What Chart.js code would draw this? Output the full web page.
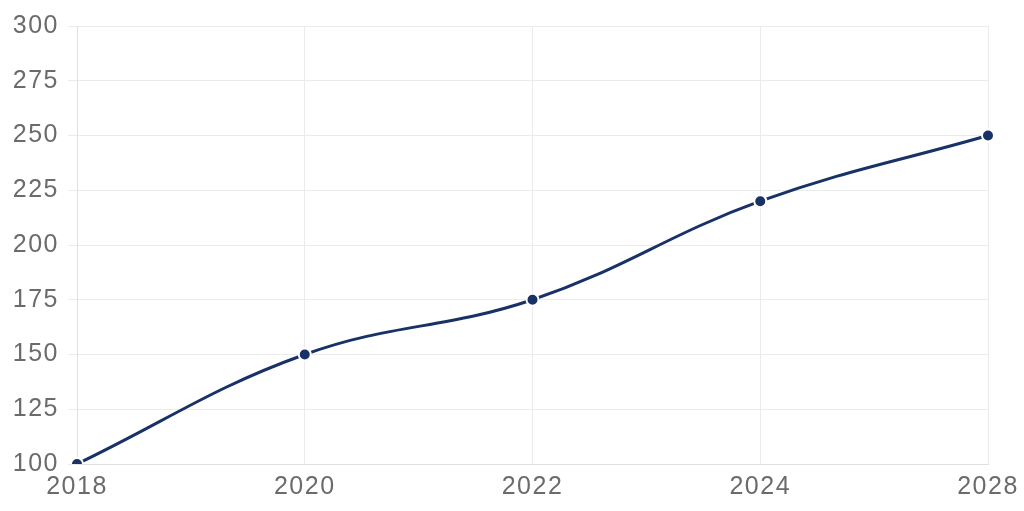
<!DOCTYPE html>
<html><head><meta charset="utf-8">
<script src="https://cdn.jsdelivr.net/npm/chart.js@4"></script>
<style>html,body{margin:0;padding:0;background:#fff}#w{width:1024px;height:511px}</style>
</head><body><div id="w"><canvas id="c"></canvas></div>
<script>
const categories = ['2018', '2020', '2022', '2024', '2028'];
const values = [100, 150, 175, 220, 250];
const yMin = 100, yMax = 300, yStep = 25;

const spacing = {
  id: 'spacing',
  beforeLayout(chart) { chart.ctx.letterSpacing = '1.5px'; },
  beforeDraw(chart) { chart.ctx.letterSpacing = '1.5px'; }
};

new Chart(document.getElementById('c'), {
  type: 'line',
  data: {
    labels: categories,
    datasets: [{
      data: values,
      borderColor: '#183166',
      borderWidth: 3,
      tension: 0.4,
      pointRadius: 6,
      pointBackgroundColor: '#183166',
      pointBorderColor: '#ffffff',
      pointBorderWidth: 2,
      fill: false
    }]
  },
  plugins: [spacing],
  options: {
    responsive: true,
    maintainAspectRatio: false,
    animation: false,
    layout: { padding: { top: 26, right: 36, left: 0, bottom: 0 } },
    plugins: { legend: { display: false }, tooltip: { enabled: false } },
    scales: {
      x: {
        grid: { color: '#ebebeb', drawTicks: false },
        border: { color: '#e0e0e0' },
        ticks: { color: '#6b6b6b', font: { family: 'Liberation Sans', size: 25 }, padding: 8, maxRotation: 0 },
        afterFit(s) { s.height = 47; s.paddingLeft = 0; s.paddingRight = 0; }
      },
      y: {
        min: yMin, max: yMax,
        grid: { color: '#ebebeb', tickLength: 9 },
        border: { color: '#e0e0e0' },
        ticks: { stepSize: yStep, color: '#6b6b6b', font: { family: 'Liberation Sans', size: 25 }, padding: 9 },
        afterFit(s) { s.width = 77; s.paddingTop = 0; s.paddingBottom = 0; }
      }
    }
  }
});
</script></body></html>
